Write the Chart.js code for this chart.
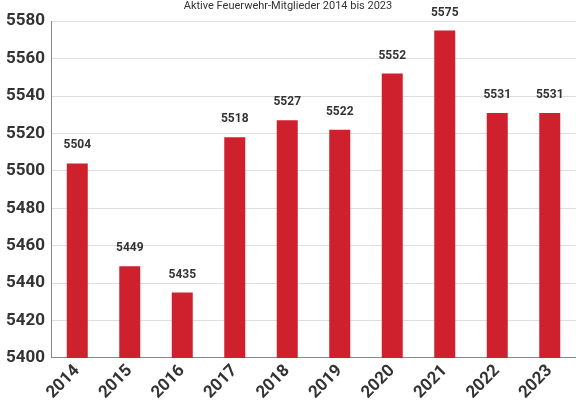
<!DOCTYPE html>
<html>
<head>
<meta charset="utf-8">
<style>
  html, body { margin: 0; padding: 0; background: #fff; }
  #wrap { width: 576px; height: 406px; }
</style>
</head>
<body>
<div id="wrap"><canvas id="chart"></canvas></div>
<script src="https://cdn.jsdelivr.net/npm/chart.js@4"></script>
<script>
  const years = ["2014", "2015", "2016", "2017", "2018", "2019", "2020", "2021", "2022", "2023"];
  const members = [5504, 5449, 5435, 5518, 5527, 5522, 5552, 5575, 5531, 5531];
  const yTicks = { min: 5400, max: 5580, step: 20 };

  // draws the value above each bar
  const valueLabels = {
    id: 'valueLabels',
    afterDatasetsDraw(chart) {
      const ctx = chart.ctx;
      const meta = chart.getDatasetMeta(0);
      ctx.save();
      ctx.font = 'bold 12px Roboto';
      ctx.fillStyle = '#333';
      ctx.textAlign = 'center';
      ctx.textBaseline = 'bottom';
      meta.data.forEach((bar, i) => {
        ctx.fillText(members[i], bar.x, bar.y - 12);
      });
      ctx.restore();
    }
  };

  new Chart(document.getElementById('chart'), {
    type: 'bar',
    data: {
      labels: years,
      datasets: [{
        data: members,
        backgroundColor: '#cf202e',
        barPercentage: 0.4,
        categoryPercentage: 1.0
      }]
    },
    options: {
      responsive: true,
      maintainAspectRatio: false,
      animation: false,
      layout: { padding: { top: 0, right: 0 } },
      plugins: {
        legend: { display: false },
        tooltip: { enabled: false },
        title: {
          display: true,
          text: 'Aktive Feuerwehr-Mitglieder 2014 bis 2023',
          font: { family: 'Roboto', size: 11, weight: 'normal' },
          color: '#333',
          padding: { top: 0, bottom: 8 }
        }
      },
      scales: {
        y: {
          min: yTicks.min,
          max: yTicks.max,
          ticks: {
            stepSize: yTicks.step,
            callback: (v) => String(v),
            font: { family: 'Roboto', size: 17, weight: 'bold' },
            color: '#333',
            padding: 6
          },
          grid: { color: '#ddd', drawTicks: false },
          border: { color: '#888' }
        },
        x: {
          ticks: {
            maxRotation: 45,
            minRotation: 45,
            font: { family: 'Roboto', size: 17, weight: 'bold' },
            color: '#333'
          },
          grid: { display: false, drawTicks: false },
          border: { color: '#888' }
        }
      }
    },
    plugins: [valueLabels]
  });
</script>
</body>
</html>
